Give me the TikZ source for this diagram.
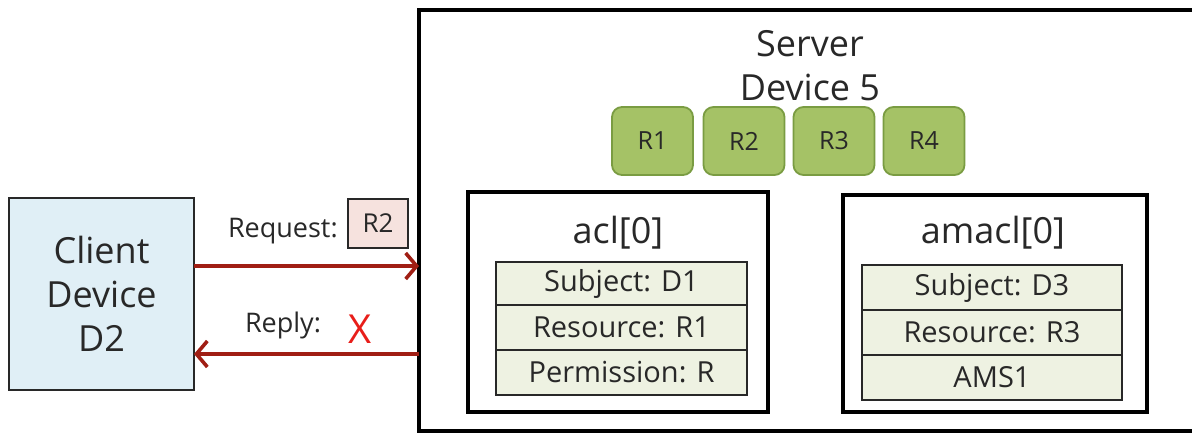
\documentclass[tikz,border=0pt]{standalone}
\usepackage{fontspec}
\setmainfont{Open Sans}
\usetikzlibrary{arrows.meta}
\definecolor{clientfill}{RGB}{224,239,246}
\definecolor{resfill}{RGB}{165,194,102}
\definecolor{resdraw}{RGB}{122,156,66}
\definecolor{rowfill}{RGB}{238,242,226}
\definecolor{reqfill}{RGB}{246,226,222}
\definecolor{linkred}{RGB}{160,30,20}
\definecolor{crossred}{RGB}{232,30,26}
\definecolor{ink}{RGB}{40,40,40}
\tikzset{
  every node/.style={text=ink, inner sep=0pt, outer sep=0pt},
  devicebox/.style={draw=ink, line width=1.8pt, fill=clientfill,
    minimum width=185pt, minimum height=192pt, align=center,
    font=\fontsize{36}{44}\selectfont},
  framebox/.style={draw=black, line width=4pt},
  resbox/.style={draw=resdraw, line width=1.8pt, fill=resfill, rounded corners=10pt,
    minimum width=81pt, minimum height=68pt, font=\fontsize{25}{30}\selectfont},
  rowbox/.style={draw=ink, line width=1.8pt, fill=rowfill,
    minimum height=45pt, font=\fontsize{29}{32}\selectfont},
  title/.style={font=\fontsize{36}{44}\selectfont, align=center},
  label/.style={font=\fontsize{27}{32}\selectfont},
  link/.style={draw=linkred, line width=3.6pt,
    -{Straight Barb[length=11pt,width=26pt,line width=3.6pt]}},
}
\begin{document}
\begin{tikzpicture}[x=1pt,y=-1pt]
\useasboundingbox (0,0) rectangle (1192,433);

% server frame: open on the right, where it meets the edge of the page
\coordinate (servernw) at (419,10);
\coordinate (serversw) at (419,431);
\coordinate (serverne) at (1192,10);
\coordinate (serverse) at (1192,431);
\draw[framebox, line cap=butt] (serverne) -- (servernw) -- (serversw) -- (serverse);
\node (servertitle) [title] at (810,66) {Server\\Device 5};

% resources hosted on the server
\node (r1) [resbox] at (652.5,141) {R1};
\node (r2) [resbox] at (744,141) {R2};
\node (r3) [resbox] at (834,141) {R3};
\node (r4) [resbox] at (924,141) {R4};

% acl[0]
\node (acl) [framebox, minimum width=300pt, minimum height=220pt] at (618,302) {};
\node (acltitle) [title, anchor=base] at (618,243) {acl[0]};
\node (aclsub) [rowbox, minimum width=251pt, minimum height=43pt] at (621.5,283.5) {Subject: D1};
\node (aclres) [rowbox, minimum width=251pt] at (621.5,327.5) {Resource: R1};
\node (aclperm) [rowbox, minimum width=251pt] at (621.5,372.5) {Permission: R};

% amacl[0]
\node (amacl) [framebox, minimum width=304pt, minimum height=217pt] at (995,303.5) {};
\node (amacltitle) [title, anchor=base] at (993,243) {amacl[0]};
\node (amaclsub) [rowbox, minimum width=260pt] at (992,287.5) {Subject: D3};
\node (amaclres) [rowbox, minimum width=260pt] at (992,332.5) {Resource: R3};
\node (amaclams) [rowbox, minimum width=260pt] at (992,377.5) {AMS1};

% client
\node (client) [devicebox] at (101.5,294) {Client\\Device\\D2};

% request and reply
\coordinate (requesty) at (0,266);
\coordinate (replyy) at (0,354);
\draw[link] (client.east |- requesty) -- (servernw |- requesty);
\draw[link] (servernw |- replyy) -- (client.east |- replyy);

\node (reqlabel) [label, anchor=base west] at (228,237) {Request:};
\node (reqres) [draw=ink, line width=1.5pt, fill=reqfill, minimum width=60pt, minimum height=49pt,
  font=\fontsize{26}{30}\selectfont] at (378,223.5) {R2};
\node (replylabel) [label, anchor=base west] at (245,332) {Reply:};
\node (denied) [anchor=base, text=crossred, font=\fontsize{40}{44}\selectfont] at (360,343) {X};
\end{tikzpicture}
\end{document}
